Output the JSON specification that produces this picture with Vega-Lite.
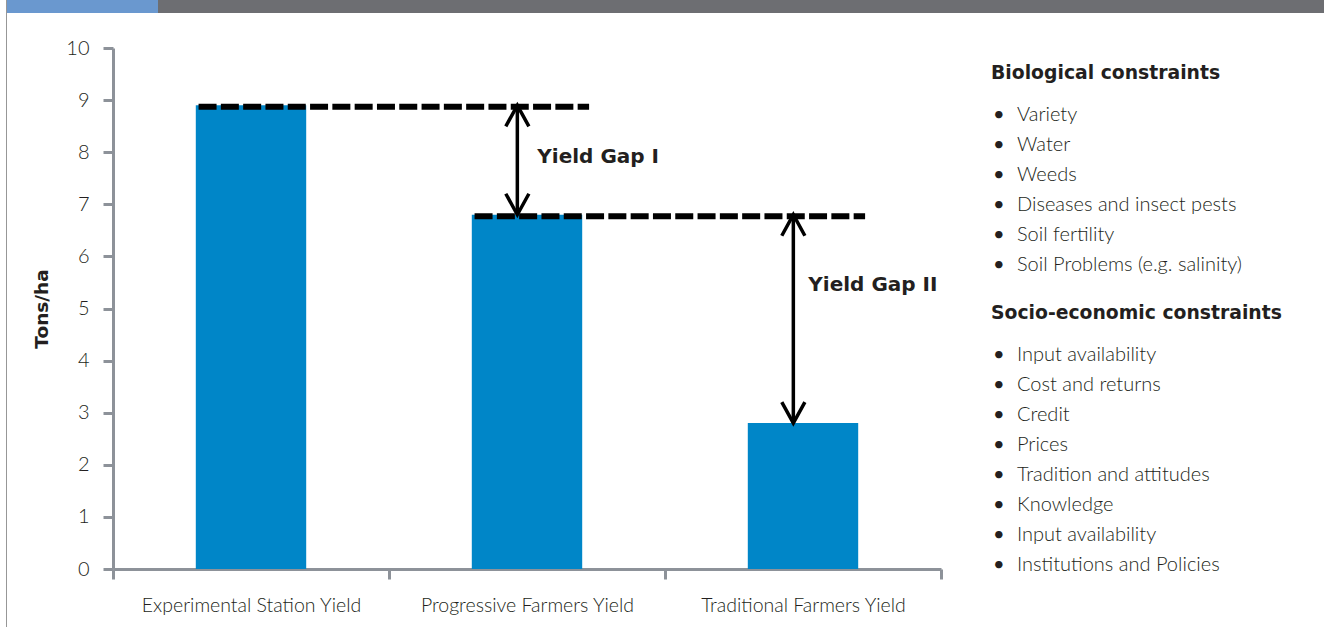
{
  "$schema": "https://vega.github.io/schema/vega-lite/v6.json",
  "padding": {"left": 6, "top": 0, "right": 0, "bottom": 0},
  "background": "white",
  "config": {
    "view": {"stroke": null},
    "font": "Lato",
    "text": {"color": "#231f20"}
  },
  "datasets": {
    "yields": [
      {"category": "Experimental Station Yield", "yield": 8.9},
      {"category": "Progressive Farmers Yield", "yield": 6.8},
      {"category": "Traditional Farmers Yield", "yield": 2.8}
    ],
    "gaps": [
      {"gap": "Yield Gap I", "from": "Experimental Station Yield", "to": "Progressive Farmers Yield", "upper": 8.9, "lower": 6.8},
      {"gap": "Yield Gap II", "from": "Progressive Farmers Yield", "to": "Traditional Farmers Yield", "upper": 6.8, "lower": 2.8}
    ],
    "constraints": [
      {"line": 0, "kind": "heading", "text": "Biological constraints"},
      {"line": 1, "kind": "item", "text": "Variety"},
      {"line": 2, "kind": "item", "text": "Water"},
      {"line": 3, "kind": "item", "text": "Weeds"},
      {"line": 4, "kind": "item", "text": "Diseases and insect pests"},
      {"line": 5, "kind": "item", "text": "Soil fertility"},
      {"line": 6, "kind": "item", "text": "Soil Problems (e.g. salinity)"},
      {"line": 8, "kind": "heading", "text": "Socio-economic constraints"},
      {"line": 9, "kind": "item", "text": "Input availability"},
      {"line": 10, "kind": "item", "text": "Cost and returns"},
      {"line": 11, "kind": "item", "text": "Credit"},
      {"line": 12, "kind": "item", "text": "Prices"},
      {"line": 13, "kind": "item", "text": "Tradition and attitudes"},
      {"line": 14, "kind": "item", "text": "Knowledge"},
      {"line": 15, "kind": "item", "text": "Input availability"},
      {"line": 16, "kind": "item", "text": "Institutions and Policies"}
    ]
  },
  "spacing": 0,
  "hconcat": [
    {
      "width": 1,
      "height": 627,
      "data": {"values": []},
      "mark": "text",
      "view": {"fill": "#979797", "stroke": null}
    },
    {
      "spacing": 25,
      "vconcat": [
        {
          "spacing": 0,
          "hconcat": [
            {
              "width": 151,
              "height": 13,
              "data": {"values": []},
              "mark": "text",
              "view": {"fill": "#6a98cf", "stroke": null}
            },
            {
              "width": 1166,
              "height": 13,
              "data": {"values": []},
              "mark": "text",
              "view": {"fill": "#6d6e72", "stroke": null}
            }
          ]
        },
        {
          "spacing": 24,
          "hconcat": [
            {
              "width": 1,
              "height": 1,
              "data": {"values": []},
              "mark": "text"
            },
            {
              "width": 828,
              "height": 521,
              "layer": [
                {
                  "data": {"name": "yields"},
                  "mark": {"type": "bar", "color": "#0086c8", "width": {"band": 0.4}},
                  "encoding": {
                    "x": {
                      "field": "category",
                      "type": "nominal",
                      "sort": null,
                      "scale": {
                        "domain": ["Experimental Station Yield", "Progressive Farmers Yield", "Traditional Farmers Yield"],
                        "paddingInner": 0,
                        "paddingOuter": 0
                      },
                      "axis": {
                        "title": null,
                        "labelAngle": 0,
                        "labelLimit": 0,
                        "labelFont": "Lato",
                        "labelFontSize": 19.5,
                        "labelFontWeight": 300,
                        "labelColor": "#231f20",
                        "labelPadding": 17,
                        "tickBand": "extent",
                        "tickSize": 10,
                        "tickWidth": 3,
                        "tickColor": "#8d9299",
                        "domainWidth": 3,
                        "domainColor": "#8d9299",
                        "grid": false
                      }
                    },
                    "y": {
                      "field": "yield",
                      "type": "quantitative",
                      "scale": {"domain": [0, 10], "nice": false},
                      "axis": {
                        "title": "Tons/ha",
                        "titleFont": "DejaVu Sans",
                        "titleFontSize": 18.5,
                        "titleFontWeight": "bold",
                        "titleColor": "#231f20",
                        "titlePadding": 14,
                        "values": [0, 1, 2, 3, 4, 5, 6, 7, 8, 9, 10],
                        "labelFont": "Lato",
                        "labelFontSize": 20,
                        "labelFontWeight": 300,
                        "labelColor": "#231f20",
                        "labelPadding": 14,
                        "tickSize": 10,
                        "tickWidth": 3,
                        "tickColor": "#8d9299",
                        "domainWidth": 3,
                        "domainColor": "#8d9299",
                        "grid": false
                      }
                    }
                  }
                },
                {
                  "data": {"name": "gaps"},
                  "mark": {"type": "rule", "strokeDash": [18, 4.3], "strokeWidth": 6, "color": "#000000", "yOffset": 1.5},
                  "encoding": {
                    "x": {"field": "from", "type": "nominal", "bandPosition": 0.31},
                    "x2": {"field": "to", "bandPosition": 0.725},
                    "y": {"field": "upper", "type": "quantitative"}
                  }
                },
                {
                  "data": {"name": "gaps"},
                  "mark": {"type": "rule", "strokeWidth": 3.5, "color": "#000000"},
                  "encoding": {
                    "x": {"field": "to", "type": "nominal", "bandPosition": 0.465},
                    "y": {"field": "upper", "type": "quantitative"},
                    "y2": {"field": "lower"}
                  }
                },
                {
                  "data": {"name": "gaps"},
                  "mark": {"type": "point", "shape": "M-0.55,1L0,0L0.55,1", "size": 1764, "filled": false, "strokeWidth": 3.5, "color": "#000000", "opacity": 1},
                  "encoding": {
                    "x": {"field": "to", "type": "nominal", "bandPosition": 0.465},
                    "y": {"field": "upper", "type": "quantitative"}
                  }
                },
                {
                  "data": {"name": "gaps"},
                  "mark": {"type": "point", "shape": "M-0.55,-1L0,0L0.55,-1", "size": 1764, "filled": false, "strokeWidth": 3.5, "color": "#000000", "opacity": 1},
                  "encoding": {
                    "x": {"field": "to", "type": "nominal", "bandPosition": 0.465},
                    "y": {"field": "lower", "type": "quantitative"}
                  }
                },
                {
                  "data": {"name": "gaps"},
                  "transform": [{"filter": "datum.gap === 'Yield Gap I'"}],
                  "mark": {"type": "text", "align": "left", "baseline": "middle", "dx": 20, "font": "DejaVu Sans", "fontWeight": "bold", "fontSize": 20, "color": "#231f20"},
                  "encoding": {
                    "x": {"field": "to", "type": "nominal", "bandPosition": 0.465},
                    "y": {"datum": 7.9},
                    "text": {"field": "gap"}
                  }
                },
                {
                  "data": {"name": "gaps"},
                  "transform": [{"filter": "datum.gap === 'Yield Gap II'"}],
                  "mark": {"type": "text", "align": "left", "baseline": "middle", "dx": 15, "font": "DejaVu Sans", "fontWeight": "bold", "fontSize": 20, "color": "#231f20"},
                  "encoding": {
                    "x": {"field": "to", "type": "nominal", "bandPosition": 0.465},
                    "y": {"datum": 5.45},
                    "text": {"field": "gap"}
                  }
                }
              ]
            },
            {
              "width": 48,
              "height": 555,
              "data": {"name": "constraints"},
              "encoding": {
                "y": {
                  "field": "line",
                  "type": "quantitative",
                  "axis": null,
                  "scale": {"domain": [-1.23, 17.27], "reverse": true, "nice": false, "zero": false}
                }
              },
              "layer": [
                {
                  "transform": [{"filter": "datum.kind === 'heading'"}],
                  "mark": {"type": "text", "align": "left", "baseline": "middle", "dy": -12, "font": "DejaVu Sans", "fontWeight": "bold", "fontSize": 18.8, "color": "#231f20"},
                  "encoding": {"text": {"field": "text"}}
                },
                {
                  "transform": [{"filter": "datum.kind === 'item'"}],
                  "mark": {"type": "text", "align": "left", "baseline": "middle", "dx": 2, "fontSize": 20, "color": "#231f20"},
                  "encoding": {"text": {"value": "•"}}
                },
                {
                  "transform": [{"filter": "datum.kind === 'item'"}],
                  "mark": {"type": "text", "align": "left", "baseline": "middle", "dx": 26, "fontSize": 20, "fontWeight": 300, "color": "#231f20"},
                  "encoding": {"text": {"field": "text"}}
                }
              ]
            }
          ]
        }
      ]
    }
  ]
}
